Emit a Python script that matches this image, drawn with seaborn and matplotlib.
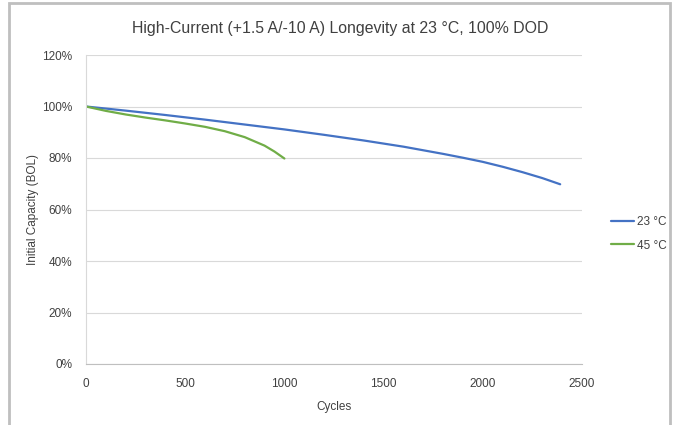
import matplotlib
matplotlib.use("Agg")
import matplotlib.pyplot as plt
import seaborn as sns
import pandas as pd
from matplotlib.patches import Rectangle
from matplotlib.ticker import FuncFormatter

cycles_23 = [0, 200, 400, 600, 800, 1000, 1200, 1400, 1600, 1800, 1900, 2000, 2100, 2200, 2300, 2390]
cap_23 = [100, 98.4, 96.7, 94.9, 93.0, 91.1, 89.0, 86.8, 84.4, 81.6, 80.1, 78.5, 76.6, 74.5, 72.2, 69.8]
cycles_45 = [0, 100, 200, 300, 400, 500, 600, 700, 800, 900, 950, 1000]
cap_45 = [100, 98.3, 96.9, 95.7, 94.6, 93.4, 92.1, 90.4, 88.1, 84.8, 82.5, 79.8]
series_names = ["23 °C", "45 °C"]
title_text = "High-Current (+1.5 A/-10 A) Longevity at 23 °C, 100% DOD"
x_ticks = [0, 500, 1000, 1500, 2000, 2500]
y_ticks = [0, 20, 40, 60, 80, 100, 120]

df = pd.concat([
    pd.DataFrame({"Cycles": cycles_23, "Capacity": cap_23, "Series": series_names[0]}),
    pd.DataFrame({"Cycles": cycles_45, "Capacity": cap_45, "Series": series_names[1]}),
])

sns.set_theme(style="white")
plt.rcParams['font.family'] = ['Liberation Sans', 'DejaVu Sans']

fig = plt.figure(figsize=(6.76, 4.25), dpi=100)
fig.patches.append(Rectangle((9/676, -0.05), (670-9)/676, 1 - 3/425 + 0.05,
                             transform=fig.transFigure, fill=False,
                             edgecolor="#bfbfbf", linewidth=2))
ax = fig.add_axes([86/676, 1 - 364/425, (582-86)/676, (364-55)/425])

sns.lineplot(data=df, x="Cycles", y="Capacity", hue="Series",
             palette={"23 °C": "#4472C4", "45 °C": "#70AD47"},
             linewidth=1.6, ax=ax, sort=False, estimator=None)

ax.set_xlim(0, 2500)
ax.set_ylim(0, 120)
ax.set_xticks(x_ticks)
ax.set_yticks(y_ticks)
ax.yaxis.set_major_formatter(FuncFormatter(lambda v, p: f"{int(v)}%"))
ax.tick_params(axis="y", length=0, labelsize=8.5, colors="#404040", pad=10)
ax.tick_params(axis="x", length=0, labelsize=8.5, colors="#404040", pad=10)
ax.grid(axis="y", color="#d9d9d9", linewidth=0.8)
ax.set_axisbelow(True)
for s in ["top", "right"]:
    ax.spines[s].set_visible(False)
ax.spines["left"].set_color("#d9d9d9")
ax.spines["bottom"].set_color("#bfbfbf")
ax.spines["left"].set_linewidth(0.8)
ax.spines["bottom"].set_linewidth(0.8)

ax.set_xlabel("Cycles", fontsize=8.5, color="#404040", labelpad=8)
ax.set_ylabel("Initial Capacity (BOL)", fontsize=8.5, color="#404040", labelpad=2)
fig.text(340/676, 1 - 28/425, title_text, ha="center", va="center",
         fontsize=11.4, color="#404040")

leg = ax.legend(loc="center left", bbox_to_anchor=(606/676, 1 - 234/425),
                bbox_transform=fig.transFigure, frameon=False,
                fontsize=8.5, handlelength=2.0, handletextpad=0.2,
                labelspacing=0.95, borderaxespad=0)
for t in leg.get_texts():
    t.set_color("#404040")

fig.savefig("out.png", dpi=100)
